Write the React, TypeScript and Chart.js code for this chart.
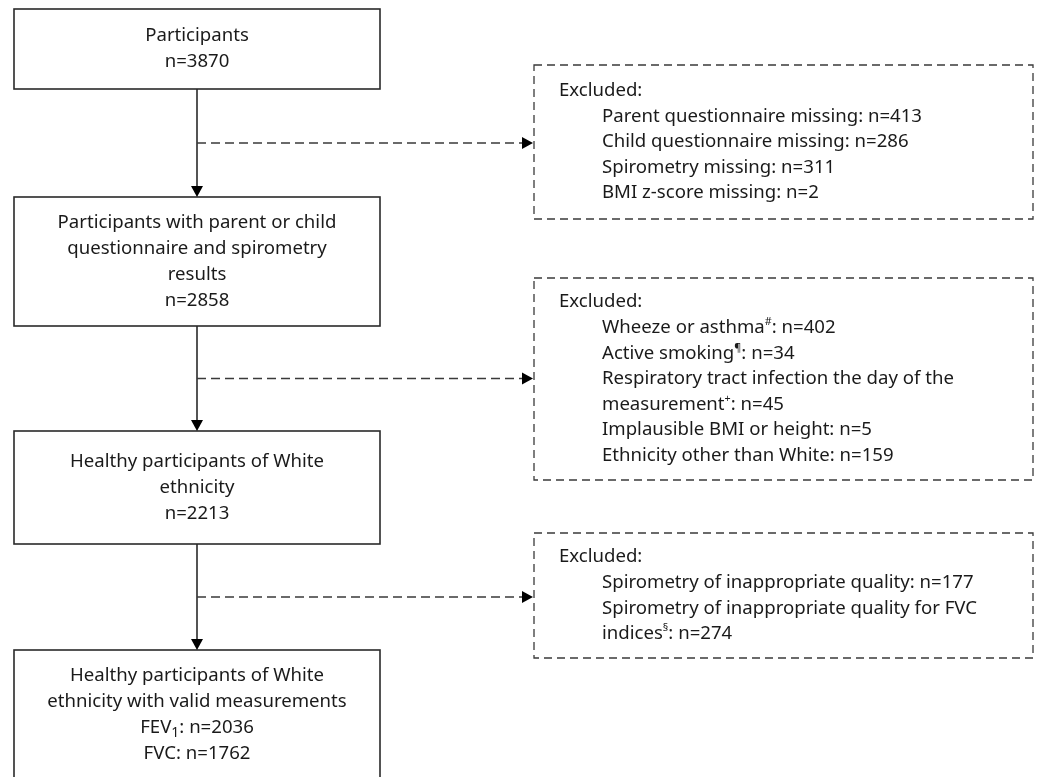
import React, { useEffect, useRef } from "react";
import { Chart, registerables } from "chart.js";

Chart.register(...registerables);

// ---- Data ----
const stageTitles: string[][] = [
  ["Participants"],
  ["Participants with parent or child", "questionnaire and spirometry", "results"],
  ["Healthy participants of White", "ethnicity"],
  ["Healthy participants of White", "ethnicity with valid measurements"],
];
const stageN: number[] = [3870, 2858, 2213];
const finalLabels: string[] = ["FEV_{1}", "FVC"];
const finalN: number[] = [2036, 1762];

const excl1Reasons: string[] = [
  "Parent questionnaire missing",
  "Child questionnaire missing",
  "Spirometry missing",
  "BMI z-score missing",
];
const excl1N: number[] = [413, 286, 311, 2];

const excl2Reasons: string[] = [
  "Wheeze or asthma^{#}",
  "Active smoking^{¶}",
  "Respiratory tract infection the day of the\nmeasurement^{+}",
  "Implausible BMI or height",
  "Ethnicity other than White",
];
const excl2N: number[] = [402, 34, 45, 5, 159];

const excl3Reasons: string[] = [
  "Spirometry of inappropriate quality",
  "Spirometry of inappropriate quality for FVC\nindices^{§}",
];
const excl3N: number[] = [177, 274];

const excludedHeader = "Excluded:";

// ---- Layout (page pixel units used as scale values) ----
const W = 1038;
const H = 777;
const FONT = "'Noto Sans', 'Open Sans', sans-serif";
const FS = 18.6;

const stageX: [number, number] = [14, 380];
const stageY: [number, number][] = [
  [9, 89],
  [197, 326],
  [431, 544],
  [650, 779],
];
const exclX: [number, number] = [534, 1033];
const exclY: [number, number][] = [
  [65, 219],
  [278, 480],
  [533, 658],
];

function stageLines(i: number): string[] {
  if (i < stageN.length) return [...stageTitles[i], `n=${stageN[i]}`];
  return [...stageTitles[i], ...finalLabels.map((l, k) => `${l}: n=${finalN[k]}`)];
}

function exclLines(reasons: string[], ns: number[]): { t: string; indent: boolean }[] {
  const out: { t: string; indent: boolean }[] = [{ t: excludedHeader, indent: false }];
  reasons.forEach((r, k) => {
    const full = `${r}: n=${ns[k]}`;
    full.split("\n").forEach((p) => out.push({ t: p, indent: true }));
  });
  return out;
}

type Seg = { t: string; kind: "n" | "sup" | "sub" };
function parseRich(s: string): Seg[] {
  const parts = s.split(/(\^\{[^}]*\}|_\{[^}]*\})/).filter((p) => p.length);
  return parts.map((p) => {
    if (p.startsWith("^{")) return { t: p.slice(2, -1), kind: "sup" as const };
    if (p.startsWith("_{")) return { t: p.slice(2, -1), kind: "sub" as const };
    return { t: p, kind: "n" as const };
  });
}

function segFont(kind: string) {
  const size = kind === "n" ? FS : kind === "sub" ? FS * 0.75 : FS * 0.58;
  return `${size}px ${FONT}`;
}

function drawRich(ctx: CanvasRenderingContext2D, s: string, x: number, y: number, align: "center" | "left") {
  const segs = parseRich(s);
  const widths = segs.map((sg) => {
    ctx.font = segFont(sg.kind);
    return ctx.measureText(sg.t).width;
  });
  const total = widths.reduce((a, b) => a + b, 0);
  let cx = align === "center" ? x - total / 2 : x;
  ctx.textAlign = "left";
  ctx.textBaseline = "middle";
  segs.forEach((sg, k) => {
    ctx.font = segFont(sg.kind);
    const dy = sg.kind === "sup" ? -FS * 0.32 : sg.kind === "sub" ? FS * 0.3 : 0;
    ctx.fillText(sg.t, cx, y + dy);
    cx += widths[k];
  });
}

const flowPlugin = {
  id: "flow",
  afterDraw(chart: any) {
    const ctx: CanvasRenderingContext2D = chart.ctx;
    const xs = chart.scales.x;
    const ys = chart.scales.y;
    const px = (v: number) => xs.getPixelForValue(v);
    const py = (v: number) => ys.getPixelForValue(v);
    ctx.save();

    const solid = "#2a2a2a";
    const dashCol = "#3a3a3a";
    const textCol = "#1a1a1a";

    // stage boxes
    const sx0 = px(stageX[0]);
    const sx1 = px(stageX[1]);
    const cxm = (sx0 + sx1) / 2;
    stageY.forEach(([t, b], i) => {
      const y0 = py(t);
      const y1 = py(b);
      ctx.setLineDash([]);
      ctx.strokeStyle = solid;
      ctx.lineWidth = 1.6;
      ctx.strokeRect(sx0, y0, sx1 - sx0, y1 - y0);
      const lines = stageLines(i);
      const lh = 26;
      const mid = (y0 + y1) / 2;
      const first = mid - ((lines.length - 1) * lh) / 2;
      ctx.fillStyle = textCol;
      lines.forEach((l, k) => drawRich(ctx, l, cxm, first + k * lh, "center"));
    });

    // vertical arrows
    for (let i = 0; i < stageY.length - 1; i++) {
      const yTop = py(stageY[i][1]);
      const yBot = py(stageY[i + 1][0]);
      ctx.setLineDash([]);
      ctx.strokeStyle = solid;
      ctx.lineWidth = 1.6;
      ctx.beginPath();
      ctx.moveTo(cxm, yTop);
      ctx.lineTo(cxm, yBot - 10);
      ctx.stroke();
      ctx.fillStyle = "#000";
      ctx.beginPath();
      ctx.moveTo(cxm - 6, yBot - 11);
      ctx.lineTo(cxm + 6, yBot - 11);
      ctx.lineTo(cxm, yBot);
      ctx.closePath();
      ctx.fill();
    }

    // exclusion boxes
    const ex0 = px(exclX[0]);
    const ex1 = px(exclX[1]);
    const allExcl = [
      exclLines(excl1Reasons, excl1N),
      exclLines(excl2Reasons, excl2N),
      exclLines(excl3Reasons, excl3N),
    ];
    exclY.forEach(([t, b], i) => {
      const y0 = py(t);
      const y1 = py(b);
      ctx.setLineDash([8, 5]);
      ctx.strokeStyle = dashCol;
      ctx.lineWidth = 1.3;
      ctx.strokeRect(ex0, y0, ex1 - ex0, y1 - y0);
      const lines = allExcl[i];
      const lh = 25.6;
      const mid = (y0 + y1) / 2;
      const first = mid - ((lines.length - 1) * lh) / 2;
      ctx.fillStyle = textCol;
      lines.forEach((l, k) =>
        drawRich(ctx, l.t, l.indent ? ex0 + 68 : ex0 + 25, first + k * lh, "left")
      );

      // dashed connector from the main flow line to the box
      const ay = (py(stageY[i][1]) + py(stageY[i + 1][0])) / 2;
      ctx.setLineDash([9, 5]);
      ctx.strokeStyle = dashCol;
      ctx.lineWidth = 1.4;
      ctx.beginPath();
      ctx.moveTo(cxm, ay);
      ctx.lineTo(ex0 - 11, ay);
      ctx.stroke();
      ctx.setLineDash([]);
      ctx.fillStyle = "#000";
      ctx.beginPath();
      ctx.moveTo(ex0 - 12, ay - 6);
      ctx.lineTo(ex0 - 12, ay + 6);
      ctx.lineTo(ex0 - 1, ay);
      ctx.closePath();
      ctx.fill();
    });

    ctx.restore();
  },
};

export default function App() {
  const ref = useRef<HTMLCanvasElement | null>(null);
  useEffect(() => {
    if (!ref.current) return;
    const chart = new Chart(ref.current, {
      type: "scatter",
      data: { datasets: [] },
      options: {
        animation: false,
        responsive: true,
        maintainAspectRatio: false,
        layout: { padding: 0 },
        scales: {
          x: { type: "linear", min: 0, max: W, display: false },
          y: { type: "linear", min: 0, max: H, reverse: true, display: false },
        },
        plugins: { legend: { display: false }, tooltip: { enabled: false } },
      },
      plugins: [flowPlugin],
    });
    return () => chart.destroy();
  }, []);
  return (
    <div style={{ position: "absolute", left: 0, top: 0, width: W, height: H, background: "#fff" }}>
      <canvas ref={ref} />
    </div>
  );
}
